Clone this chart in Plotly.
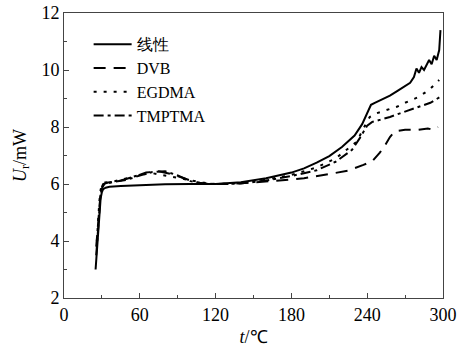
import plotly.graph_objects as go

# Data
lin_x = [25, 26, 27, 28, 29, 30, 31, 33, 36, 45, 60, 80, 100, 120, 140, 160, 180, 190, 200, 210, 220, 230, 236, 240, 243, 246, 252, 258, 264, 270, 274, 277, 279, 281, 283, 285, 287, 289, 291, 293, 295, 297, 298]
lin_y = [3.0, 3.6, 4.3, 5.0, 5.5, 5.72, 5.82, 5.87, 5.9, 5.93, 5.96, 5.99, 6.0, 6.0, 6.06, 6.2, 6.4, 6.55, 6.75, 6.98, 7.3, 7.7, 8.1, 8.5, 8.78, 8.85, 8.98, 9.1, 9.27, 9.45, 9.55, 9.75, 10.05, 9.9, 10.1, 10.0, 10.15, 10.35, 10.2, 10.5, 10.35, 10.7, 11.4]

dvb_x = [25.5, 27, 28, 29, 30, 31, 35, 45, 55, 65, 75, 85, 95, 105, 115, 130, 150, 170, 190, 210, 225, 237, 244, 250, 254, 258, 262, 270, 280, 288, 292, 296]
dvb_y = [3.8, 4.6, 5.3, 5.7, 5.9, 6.0, 6.05, 6.12, 6.25, 6.4, 6.45, 6.35, 6.2, 6.05, 6.0, 6.0, 6.05, 6.12, 6.2, 6.35, 6.47, 6.67, 6.8, 7.1, 7.35, 7.65, 7.85, 7.9, 7.9, 7.95, 7.9, 8.0]

egd_x = [26, 27, 28, 29, 30, 32, 40, 50, 60, 70, 80, 90, 100, 110, 120, 140, 160, 180, 200, 215, 228, 232, 237, 242, 246, 252, 258, 264, 270, 280, 289, 297]
egd_y = [4.0, 4.8, 5.4, 5.8, 5.98, 6.05, 6.1, 6.2, 6.32, 6.38, 6.3, 6.2, 6.12, 6.05, 6.0, 6.03, 6.15, 6.32, 6.58, 6.9, 7.35, 7.5, 7.95, 8.35, 8.46, 8.55, 8.62, 8.72, 8.85, 9.04, 9.3, 9.65]

tmp_x = [25.5, 27, 28, 29, 30, 32, 40, 50, 60, 70, 80, 90, 100, 110, 120, 140, 160, 180, 200, 215, 228, 234, 240, 244, 250, 258, 266, 274, 282, 290, 298]
tmp_y = [3.5, 4.5, 5.2, 5.65, 5.85, 6.0, 6.08, 6.15, 6.3, 6.42, 6.45, 6.3, 6.1, 6.02, 6.0, 6.02, 6.12, 6.28, 6.48, 6.78, 7.2, 7.6, 8.05, 8.18, 8.25, 8.35, 8.48, 8.6, 8.71, 8.85, 9.06]

names = ["线性", "DVB", "EGDMA", "TMPTMA"]
x_ticks = [0, 60, 120, 180, 240, 300]
y_ticks = [2, 4, 6, 8, 10, 12]

series = [
    (names[0], lin_x, lin_y, "solid"),
    (names[1], dvb_x, dvb_y, "12px,8px"),
    (names[2], egd_x, egd_y, "3px,7px"),
    (names[3], tmp_x, tmp_y, "10px,4px,3px,4px"),
]

fig = go.Figure()
for name, xs, ys, dash in series:
    fig.add_trace(go.Scatter(x=xs, y=ys, mode="lines", name=name,
                             line=dict(color="black", width=2, dash=dash)))

FONT = "Liberation Serif"
axis_common = dict(showgrid=False, zeroline=False, showline=True, mirror=True,
                   linecolor="#444", linewidth=1, ticks="inside", ticklen=5,
                   tickcolor="#444", automargin=False,
                   tickfont=dict(family=FONT, size=18, color="black"))

fig.update_xaxes(range=[0, 300], tickvals=x_ticks,
                 minor=dict(dtick=30, ticks="inside", ticklen=3, tickcolor="#444"),
                 title=dict(text="<i>t</i>/℃", font=dict(family=FONT, size=18, color="black"), standoff=6),
                 **axis_common)
fig.update_yaxes(range=[2, 12], tickvals=y_ticks,
                 minor=dict(dtick=1, ticks="inside", ticklen=3, tickcolor="#444"),
                 title=dict(text="<i>U</i><sub>r</sub>/mW", font=dict(family=FONT, size=18, color="black"), standoff=10),
                 **axis_common)

fig.update_layout(
    width=459, height=352,
    margin=dict(l=64, r=16, t=13, b=54),
    paper_bgcolor="white", plot_bgcolor="white",
    font=dict(family=FONT),
    showlegend=True,
    legend=dict(x=0.065, y=0.95, xanchor="left", yanchor="top",
                bgcolor="rgba(0,0,0,0)", tracegroupgap=0, itemwidth=38,
                font=dict(family=FONT, size=16, color="black")),
)

fig.write_html("out.html", config={"displayModeBar": False},
               post_script="document.body.style.margin='0';")
